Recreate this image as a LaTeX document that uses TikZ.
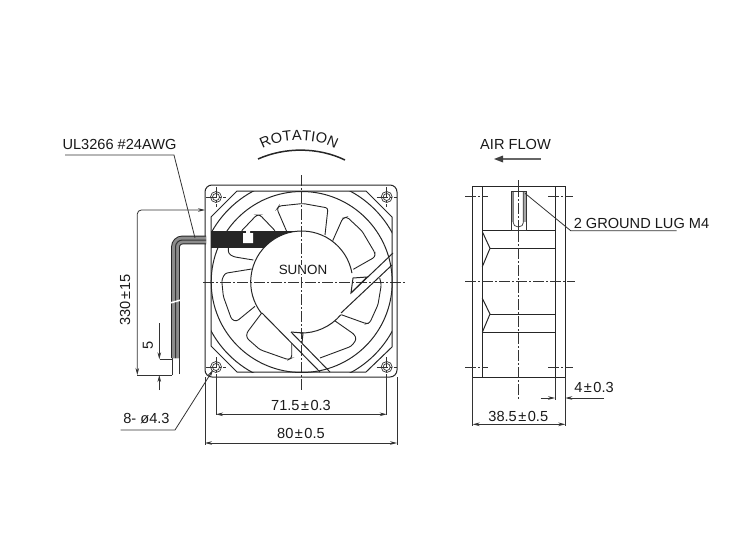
\documentclass[tikz,border=0pt]{standalone}
\usepackage{fontspec}
\setmainfont{Liberation Sans}
\usetikzlibrary{decorations.text,arrows.meta}
\newcommand{\tolsign}{\kern1.5pt±\kern1.5pt}
\tikzset{
	part/.style={draw=black!85,line width=1pt},
	thin part/.style={draw=black!80,line width=.7pt},
	blade/.style={draw=black!85,line width=.9pt,rounded corners=2.5pt},
	center line/.style={draw=black!80,line width=.8pt,dash pattern=on 11pt off 2pt on 2pt off 2pt},
	dimen/.style={draw=black!80,line width=.8pt,>={Stealth[length=7pt,width=3.6pt]}},
	every node/.style={font=\fontsize{14.6}{16}\selectfont,text=black!90,inner sep=0pt}
}
\begin{document}
\begin{tikzpicture}[x=1pt,y=-1pt]
	\useasboundingbox (0,0) rectangle (750,538);
	\coordinate (fanc) at (301.7,282);
	%center lines front
	\draw[center line] (301.7,175) -- (301.7,391);
	\draw[center line] (203,282) -- (405,282);
	\foreach \x in {216,386.7}
	\foreach \y in {197,367}{
		\draw[center line] (\x-10,\y) -- (\x+10,\y);
		\draw[center line] (\x,\y-10) -- (\x,\y+10);
		\draw[thin part] (\x,\y) circle[radius=5.5pt];
		\draw[thin part] (\x,\y) circle[radius=3.5pt];
	}
	%frame
	\draw[part,rounded corners=7pt] (205,185) rectangle (397,377);
	\draw[part] (237,191) -- (366,191) -- (392,217) -- (392,347) -- (366,372)
	-- (237,372) -- (211,346) -- (211,217) -- cycle;
	%ring
	\draw[part] (fanc) circle[radius=90.5pt];
	\begin{scope}
		\clip (211,191) rectangle (392,372);
		\draw[part] (fanc) circle[radius=103pt];
	\end{scope}
	%hub
	\draw[part] ([shift={(218:51pt)}]fanc) arc[start angle=218,end angle=10,radius=51pt];
	\draw[part] ([shift={(268:51pt)}]fanc) arc[start angle=268,end angle=320,radius=51pt];
	%struts
	\draw[part] (351,293) -- (393,253);
	\draw[part] (341,313) -- (392,265);
	\draw[part] (353,278) -- (367,277) -- (351,293) -- cycle;
	\draw[part] (262,313) -- (320,372);
	\draw[part] (291,332) -- (330,372);
	\draw[part] (291,332) -- (303,333) -- (302,343);
	%blades
	\draw[blade] (286.5,231) -- (277,209) -- (279,206) -- (303,203.5) -- (328,208) -- (325,235);
	\draw[blade] (332.7,240.7) -- (342.7,218.3) -- (347,217) -- (362,231) -- (375,253) -- (375,257) -- (353.3,269.3);
	\draw[blade] (341.3,314.7) -- (366.3,323.7) -- (369.7,323) -- (378,304.7) -- (381.3,284.7) -- (379.7,278);
	\draw[blade] (334.7,320.7) -- (354.7,334.7) -- (356.3,339.7) -- (351.3,346.3) -- (320,358);
	\draw[blade] (261.7,313) -- (246.7,333) -- (246.7,338) -- (260,349.7) -- (288.3,359.7) -- (291.7,358) -- (291.7,343);
	\draw[blade] (255,306.3) -- (236.7,321.3) -- (231.7,319.7) -- (223.3,296.3) -- (221.7,280) -- (225,273.3) -- (251.7,269);
	\draw[blade] (241.7,230.7) -- (256.7,215) -- (260,215) -- (275,230.7);
	\draw[blade] (228.3,248) -- (228.3,253.3) -- (233.3,256.7) -- (253.3,260);
	%black band
	\fill[black!85] (211,231) -- (301.7,231) arc[start angle=90,end angle=138,radius=51pt] -- (211,248) -- cycle;
	\fill[white] (243,233) rectangle (253,243) (246,231) rectangle (250,233);
	\node[fill=white,font=\fontsize{13.4}{15}\selectfont] (brand) at (303,269.5) {SUNON};
	%wire
	\draw[draw=black!85,line width=8.8pt,rounded corners=7pt] (206,240) -- (175.5,240) -- (175.5,358);
	\draw[draw=black!45,line width=6.8pt,rounded corners=7pt] (206,240) -- (175.5,240) -- (175.5,358);
	\draw[draw=black!80,line width=1pt,rounded corners=7pt] (206,240) -- (175.5,240) -- (175.5,358);
	\draw[draw=white,line width=1.5pt] (170,303) -- (181,300);
	\draw[thin part] (172,375) -- (172,358) (179.3,374) -- (179.3,358);
	%left dimensions
	\draw[dimen,<->,rounded corners=4pt] (205,210) -- (137.3,210) -- (137.3,375);
	\draw[dimen] (137.3,375) -- (172,375) (160,359.3) -- (172,359.3);
	\draw[dimen,->] (159.3,323) -- (159.3,359.3);
	\draw[dimen,->] (159.3,390) -- (159.3,375);
	\node[rotate=90] (wirelen) at (125,300) {330\tolsign 15};
	\node[rotate=90] (stripped) at (148,345) {5};
	\node (cable) at (119.5,144) {UL3266 \#24AWG};
	\draw[dimen] (65,155) -- (174,155) -- (195,238);
	\node (holes) at (146.5,419) {8- ø4.3};
	\draw[dimen,->] (120.7,430) -- (175,430) -- (213,370);
	%bottom dimensions
	\draw[dimen] (216,377) -- (216,415) (386.7,377) -- (386.7,415);
	\draw[dimen,<->] (216,414.3) -- (386.7,414.3);
	\node (pitch) at (301,405) {71.5\tolsign 0.3};
	\draw[dimen] (205,377) -- (205,445) (397,377) -- (397,445);
	\draw[dimen,<->] (205,443) -- (397,443);
	\node (width) at (301,433) {80\tolsign 0.5};
	%rotation
	\path[decorate,decoration={text along path,text align=center,
		text={|\fontsize{14.6}{16}\selectfont\color{black!90}|ROTATION}}]
		(256,154) .. controls (272,136) and (326,136) .. (342,154);
	\draw[draw=black!85,line width=1.5pt] (258,159) .. controls (285,147) and (318,147) .. (345,160);
	%side view
	\draw[part] (472.7,186) rectangle (565.3,377.3);
	\draw[part] (482.3,186) -- (482.3,377.3) (555,186) -- (555,377.3);
	\draw[part] (482.3,230) -- (555,230) (490,248.3) -- (555,248.3);
	\draw[part] (490,314) -- (555,314) (482.3,332.3) -- (555,332.3);
	\draw[part] (482.3,231.7) -- (490,248.3) -- (482.3,266.7);
	\draw[part] (482.3,298.3) -- (490,314) -- (482.3,332.3);
	\draw[center line] (518.3,180) -- (518.3,400);
	\draw[center line] (465,281.7) -- (575,281.7);
	\foreach \y in {196,367}{
		\draw[center line] (465,\y) -- (488,\y);
		\draw[center line] (548,\y) -- (572.7,\y);
	}
	%ground lug
	\fill[black!35] (511,191.7) rectangle (526,222);
	\fill[white] (513.3,191.7) rectangle (523.3,222);
	\draw[thin part] (511,191.7) rectangle (526,230);
	\draw[thin part,rounded corners=4pt] (513.3,191.7) -- (513.3,226.7) -- (523.3,226.7) -- (523.3,191.7);
	\draw[center line] (518.3,186) -- (518.3,230);
	\node (lug) at (641.5,223) {2 GROUND LUG M4};
	\draw[dimen] (525,193.3) -- (570.7,230.7) -- (676.7,230.7);
	%air flow
	\node (airflow) at (515.5,144) {AIR FLOW};
	\draw[draw=black!60,line width=2.8pt] (502,159) -- (540.7,159);
	\fill[black!75] (494,159) -- (503,155.5) -- (503,162.5) -- cycle;
	%side dimensions
	\draw[dimen] (472.7,377) -- (472.7,426) (565.3,377) -- (565.3,426) (555,377) -- (555,400);
	\draw[dimen,<->] (472.7,424.3) -- (565.3,424.3);
	\node (depth) at (518.3,416.7) {38.5\tolsign 0.5};
	\draw[dimen,->] (540.7,398) -- (555,398);
	\draw[dimen,->] (604,398) -- (565.3,398);
	\node (lugoff) at (594,387) {4\tolsign 0.3};
\end{tikzpicture}
\end{document}
